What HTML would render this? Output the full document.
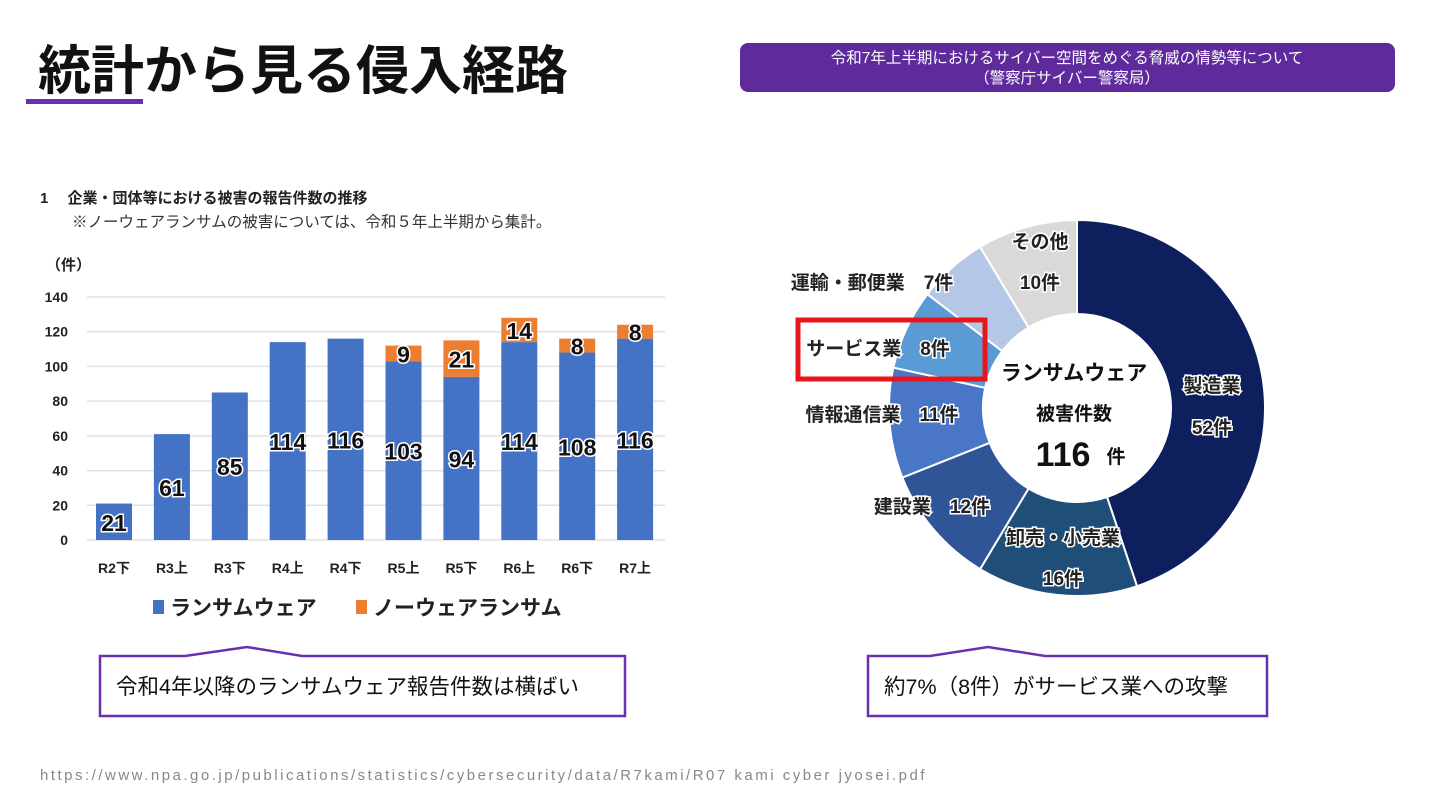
<!DOCTYPE html>
<html><head><meta charset="utf-8">
<style>
body{margin:0;width:1440px;height:810px;background:#fff;overflow:hidden;font-family:"Liberation Sans","Noto Sans CJK JP",sans-serif;}
svg{display:block}
text{font-family:"Liberation Sans","Noto Sans CJK JP",sans-serif;}
</style></head><body>
<svg id="page" width="1440" height="810" viewBox="0 0 1440 810">
  <text x="38" y="89" font-size="53" font-weight="bold" fill="#111">統計から見る侵入経路</text>
  <rect x="26" y="99" width="117" height="5" fill="#6a2fb0"/>
  <rect x="740" y="43" width="655" height="49" rx="8" fill="#5e2a9c"/>
  <text x="1067" y="63" font-size="15.5" fill="#fff" text-anchor="middle">令和7年上半期におけるサイバー空間をめぐる脅威の情勢等について</text>
  <text x="1067" y="83" font-size="15.5" fill="#fff" text-anchor="middle">（警察庁サイバー警察局）</text>

  <text x="40" y="203" font-size="15" font-weight="bold" fill="#222">1　 企業・団体等における被害の報告件数の推移</text>
  <text x="72" y="227" font-size="15.5" fill="#333">※ノーウェアランサムの被害については、令和５年上半期から集計。</text>
  <text x="46" y="270" font-size="15" font-weight="bold" fill="#222">（件）</text>
  <g id="bars"></g>
  <g id="donut"></g>

  <rect x="798" y="320" width="187" height="59" fill="none" stroke="#e8161b" stroke-width="5"/>

  <path d="M100 656 L185 656 L247 647 L302 656 L625 656 L625 716 L100 716 Z" fill="#fff" stroke="#6a2fb0" stroke-width="2.5"/>
  <text x="116" y="694" font-size="21.5" fill="#111">令和4年以降のランサムウェア報告件数は横ばい</text>
  <path d="M868 656 L930 656 L988 647 L1045 656 L1267 656 L1267 716 L868 716 Z" fill="#fff" stroke="#6a2fb0" stroke-width="2.5"/>
  <text x="884" y="694" font-size="21.5" fill="#111">約7%（8件）がサービス業への攻撃</text>
  <text x="40" y="780" font-size="15" letter-spacing="2.5" fill="#888">https://www.npa.go.jp/publications/statistics/cybersecurity/data/R7kami/R07 kami cyber jyosei.pdf</text>
</svg>
<script>
const NS='http://www.w3.org/2000/svg';
const categories=['R2下','R3上','R3下','R4上','R4下','R5上','R5下','R6上','R6下','R7上'];
const ransomware=[21,61,85,114,116,103,94,114,108,116];
const noware=[0,0,0,0,0,9,21,14,8,8];
const yTicks=[0,20,40,60,80,100,120,140];
const sectors=['製造業','卸売・小売業','建設業','情報通信業','サービス業','運輸・郵便業','その他'];
const sectorValues=[52,16,12,11,8,7,10];

function el(tag,attrs,parent,txt){const e=document.createElementNS(NS,tag);for(const k in attrs)e.setAttribute(k,attrs[k]);if(txt!==undefined)e.textContent=txt;parent.appendChild(e);return e;}
const bars=document.getElementById('bars');
const y0=540,yTop=297,yMax=140;
const yS=v=>y0-(v/yMax)*(y0-yTop);
const xS=i=>114+i*57.9;
const bw=36;
yTicks.forEach(t=>{
  const l=el('line',{x1:87,x2:665,y1:yS(t),y2:yS(t),stroke:'#e2e2e2','stroke-width':1.5},bars);
  
  
  const tx=el('text',{x:68,y:yS(t)+5,'font-size':14,'font-weight':'bold','text-anchor':'end',fill:'#222'},bars,String(t));
  
  
});
categories.forEach((c,i)=>{
  const x=xS(i)-bw/2;
  const r=el('rect',{x:x,y:yS(ransomware[i]),width:bw,height:y0-yS(ransomware[i]),fill:'#4472c4'},bars);
  
  
  const midR=(yS(ransomware[i])+y0)/2;
  const lt=el('text',{x:xS(i),y:Math.min(midR+9,y0-8),'font-size':23,'font-weight':'bold','text-anchor':'middle',fill:'#111',stroke:'#fff','stroke-width':3,'paint-order':'stroke'},bars,String(ransomware[i]));
  
  
  if(noware[i]>0){
    const top=yS(ransomware[i]+noware[i]);
    const o=el('rect',{x:x,y:top,width:bw,height:yS(ransomware[i])-top,fill:'#ed7d31'},bars);
    
    
    const ot=el('text',{x:xS(i),y:(top+yS(ransomware[i]))/2+9,'font-size':23,'font-weight':'bold','text-anchor':'middle',fill:'#111',stroke:'#fff','stroke-width':3,'paint-order':'stroke'},bars,String(noware[i]));
    
    
  }
  const ct=el('text',{x:xS(i),y:573,'font-size':14,'font-weight':'bold','text-anchor':'middle',fill:'#222'},bars,c);
  
  
});
const lg1=el('rect',{x:153,y:600,width:11,height:14,fill:'#4472c4'},bars);


const lt1=el('text',{x:170,y:615,'font-size':21,'font-weight':'bold',fill:'#222'},bars,'ランサムウェア');


const lg2=el('rect',{x:356,y:600,width:11,height:14,fill:'#ed7d31'},bars);


const lt2=el('text',{x:373,y:615,'font-size':21,'font-weight':'bold',fill:'#222'},bars,'ノーウェアランサム');



// donut
const dn=document.getElementById('donut');
const cx=1077,cy=408,R=188,r0=94;
const colors=['#0d1f5c','#1f4e79','#2f5597','#4a76c8','#5b9bd5','#b4c7e7','#d9d9d9'];
const total=sectorValues.reduce((a,b)=>a+b,0);
const pt=(a,rad)=>[cx+rad*Math.sin(a),cy-rad*Math.cos(a)];
let acc=0;
const labelPos=[[1212,385,1212,427],[1063,537,1063,578],[932,506],[882,414],[878,348],[872,282],[1040,241,1040,282]];
const labelText=[['製造業','52件'],['卸売・小売業','16件'],['建設業　12件'],['情報通信業　11件'],['サービス業　8件'],['運輸・郵便業　7件'],['その他','10件']];
sectorValues.forEach((v,i)=>{
  const a0=acc/total*2*Math.PI;acc+=v;const a1=acc/total*2*Math.PI;
  const large=(a1-a0)>Math.PI?1:0;
  const p0=pt(a0,R),p1=pt(a1,R),q1=pt(a1,r0),q0=pt(a0,r0);
  const p=el('path',{d:`M${p0} A${R} ${R} 0 ${large} 1 ${p1} L${q1} A${r0} ${r0} 0 ${large} 0 ${q0} Z`,fill:colors[i],stroke:'#fff','stroke-width':2},dn);
  
  
  const lp=labelPos[i],lt=labelText[i];
  lt.forEach((s,k)=>{
    const t=el('text',{x:lp[k*2],y:lp[k*2+1]+7,'font-size':19,'font-weight':'bold','text-anchor':'middle',fill:'#222',stroke:'#fff','stroke-width':3,'paint-order':'stroke'},dn,s);
    
    
  });
});
const c1=el('text',{x:1074,y:380,'font-size':21,'font-weight':'bold','text-anchor':'middle',fill:'#111'},dn,'ランサムウェア');


const c2=el('text',{x:1074,y:420,'font-size':19,'font-weight':'bold','text-anchor':'middle',fill:'#111'},dn,'被害件数');


const c3=el('text',{x:1063,y:466,'font-size':34,'font-weight':'bold','text-anchor':'middle',fill:'#111'},dn,String(total));


const c4=el('text',{x:1116,y:463,'font-size':19,'font-weight':'bold','text-anchor':'middle',fill:'#111'},dn,'件');


</script>
</body></html>
